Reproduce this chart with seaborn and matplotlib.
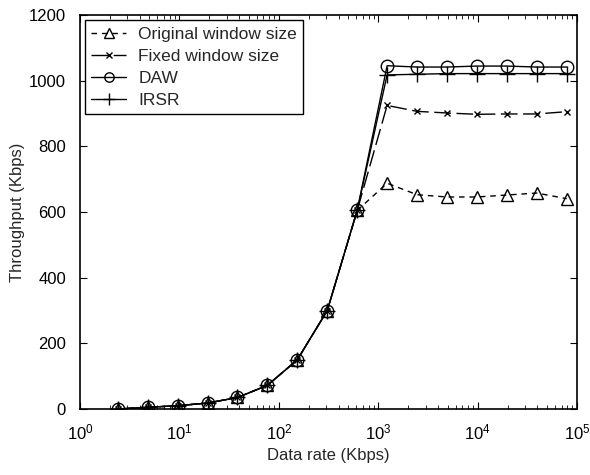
import numpy as np
import pandas as pd
import matplotlib
matplotlib.use("Agg")
import matplotlib.pyplot as plt
import seaborn as sns

# data rates (Kbps)
rates = [2.4, 4.8, 9.6, 19.2, 38.4, 76.8, 153.6, 307.2, 614.4,
         1228.8, 2457.6, 4915.2, 9830.4, 19660.8, 39321.6, 78643.2]

low = [0, 5, 10, 18, 35, 72, 150, 300, 605]
original = low + [688, 653, 646, 646, 652, 658, 641]
fixed = low + [925, 907, 902, 898, 899, 899, 906]
daw = low + [1046, 1042, 1042, 1045, 1045, 1042, 1042]
irsr = low + [1018, 1020, 1022, 1022, 1022, 1022, 1022]

series_names = ["Original window size", "Fixed window size", "DAW", "IRSR"]

sns.set_style("ticks")
plt.rcParams["font.family"] = ["Liberation Sans", "DejaVu Sans"]
plt.rcParams["mathtext.fontset"] = "custom"
plt.rcParams["mathtext.rm"] = "Liberation Sans"
plt.rcParams["mathtext.it"] = "Liberation Sans"
plt.rcParams["xtick.direction"] = "in"
plt.rcParams["ytick.direction"] = "in"

fig = plt.figure(figsize=(5.9, 4.75), dpi=100)
ax = fig.add_axes([0.1356, 0.139, 0.8424, 0.829])

styles = {
    "Original window size": dict(marker="^", dashes=(4, 3.5), ms=9),
    "Fixed window size": dict(marker="x", dashes=(12, 4), ms=5),
    "DAW": dict(marker="o", dashes=None, ms=9),
    "IRSR": dict(marker="+", dashes=None, ms=12),
}

for name, vals in zip(series_names, [original, fixed, daw, irsr]):
    st = styles[name]
    sns.lineplot(x=rates, y=vals, ax=ax, color="black", lw=1.0,
                 marker=st["marker"], markersize=st["ms"],
                 markerfacecolor="none", markeredgecolor="black",
                 markeredgewidth=1.0, label=name)
    if st["dashes"] is not None:
        ax.get_lines()[-1].set_dashes(st["dashes"])

ax.set_xscale("log")
ax.set_xlim(1, 1e5)
ax.set_ylim(0, 1200)
ax.set_yticks(np.arange(0, 1201, 200))
ax.set_xlabel("Data rate (Kbps)", fontsize=12, labelpad=4)
ax.set_ylabel("Throughput (Kbps)", fontsize=12, labelpad=3)
ax.tick_params(which="both", top=True, right=True, labelsize=12, colors="black")
ax.tick_params(axis="x", which="major", pad=10)
ax.tick_params(axis="y", which="major", pad=10)
ax.tick_params(which="major", length=5)
ax.tick_params(which="minor", length=3)
for s in ax.spines.values():
    s.set_visible(True)
    s.set_color("black")
    s.set_linewidth(1.2)

leg = ax.legend(loc="upper left", fontsize=12.5, frameon=True, fancybox=False,
                edgecolor="black", framealpha=1, handlelength=2.0,
                borderpad=0.35, labelspacing=0.4, handletextpad=0.7,
                borderaxespad=0.3, markerscale=0.75)
leg.get_frame().set_linewidth(1.0)

fig.savefig("out.png", dpi=100)
